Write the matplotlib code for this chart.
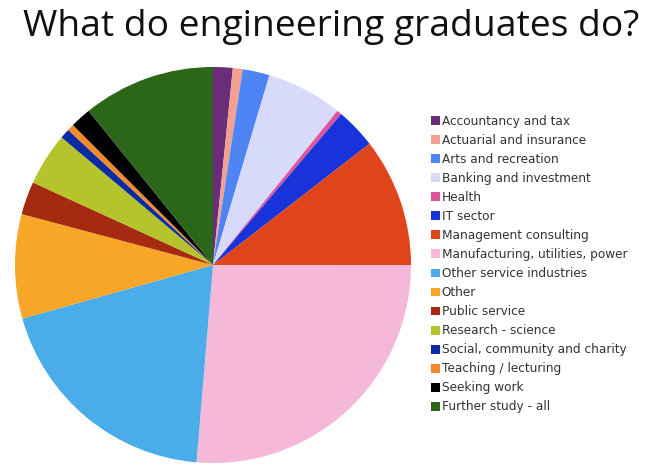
import matplotlib
matplotlib.use("Agg")
import matplotlib.pyplot as plt

# === DATA ===
labels = [
    "Accountancy and tax", "Actuarial and insurance", "Arts and recreation",
    "Banking and investment", "Health", "IT sector", "Management consulting",
    "Manufacturing, utilities, power", "Other service industries", "Other",
    "Public service", "Research - science", "Social, community and charity",
    "Teaching / lecturing", "Seeking work", "Further study - all",
]
shares = [1.6, 0.8, 2.2, 6.2, 0.4, 3.3, 10.5, 26.3, 19.3, 8.5, 2.7, 4.3, 0.8, 0.55, 1.7, 10.8]
colors = [
    "#6b2d7a", "#f4a090", "#4f84f5", "#d8dafb", "#e0559a", "#1733d9",
    "#e0441a", "#f5b8d8", "#4aace8", "#f7a628", "#a52a0f", "#b5c42a",
    "#0c2ba0", "#f08a2a", "#000000", "#2b6619",
]

W, H = 661, 472
fig = plt.figure(figsize=(W / 100, H / 100), dpi=100)

# title
fig.text(331 / W, 1 - 27 / H, "What do engineering graduates do?",
         ha="center", va="center", fontsize=26.8, family="Open Sans", color="#111111")

# pie: centre ~ (213, 265) px, radius ~ 200 px
cx, cy, r = 213, 265, 200
ax = fig.add_axes([(cx - r) / W, 1 - (cy + r) / H, 2 * r / W, 2 * r / H])
wedges, _ = ax.pie(shares, colors=colors, startangle=90, counterclock=False,
                   wedgeprops=dict(linewidth=0))
ax.set_xlim(-1.01, 1.01)
ax.set_ylim(-1.01, 1.01)
ax.set_aspect("equal")
ax.axis("off")

# legend
leg = fig.legend(wedges, labels, loc="upper left",
                 bbox_to_anchor=(426 / W, 1 - 110 / H),
                 frameon=False, fontsize=8.7, handlelength=0.75, handleheight=0.75,
                 handletextpad=0.15, labelspacing=0.5, borderaxespad=0)
for t in leg.get_texts():
    t.set_color("#333333")

fig.savefig("out.png", dpi=100)
